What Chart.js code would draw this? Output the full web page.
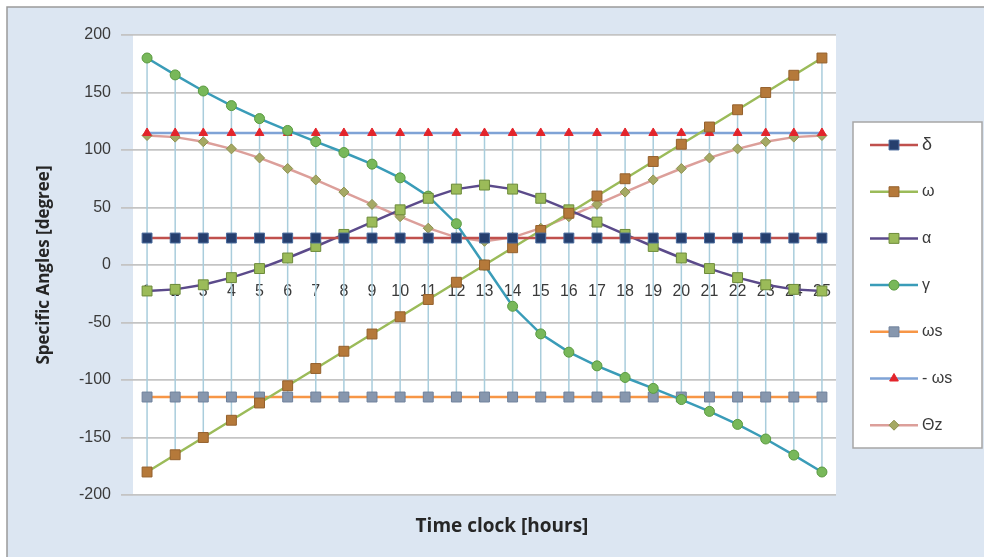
<!DOCTYPE html>
<html>
<head>
<meta charset="utf-8">
<script src="https://cdn.jsdelivr.net/npm/chart.js@4.4.1/dist/chart.umd.min.js"></script>
<style>
  html, body { margin: 0; padding: 0; background: #ffffff; }
  canvas { display: block; }
</style>
</head>
<body>
<canvas id="angles-chart" width="984" height="557"></canvas>
<script>
// hours on the category axis
var hours = ['1','2','3','4','5','6','7','8','9','10','11','12','13','14','15','16','17','18','19','20','21','22','23','24','25'];

// series values (degrees)
var delta = [23.45,23.45,23.45,23.45,23.45,23.45,23.45,23.45,23.45,23.45,23.45,23.45,23.45,23.45,23.45,23.45,23.45,23.45,23.45,23.45,23.45,23.45,23.45,23.45,23.45];
var omega = [-180,-165,-150,-135,-120,-105,-90,-75,-60,-45,-30,-15,0,15,30,45,60,75,90,105,120,135,150,165,180];
var alpha = [-22.6,-21.2,-17.2,-11.0,-3.1,6.1,16.1,26.6,37.3,48.0,58.0,66.0,69.5,66.0,58.0,48.0,37.3,26.6,16.1,6.1,-3.1,-11.0,-17.2,-21.2,-22.6];
var gamma = [180,165.3,151.3,138.6,127.3,117.0,107.3,97.8,87.7,75.8,59.9,35.9,0,-35.9,-59.9,-75.8,-87.7,-97.8,-107.3,-117.0,-127.3,-138.6,-151.3,-165.3,-180];
var omegaS = [-114.8,-114.8,-114.8,-114.8,-114.8,-114.8,-114.8,-114.8,-114.8,-114.8,-114.8,-114.8,-114.8,-114.8,-114.8,-114.8,-114.8,-114.8,-114.8,-114.8,-114.8,-114.8,-114.8,-114.8,-114.8];
var minusOmegaS = [114.8,114.8,114.8,114.8,114.8,114.8,114.8,114.8,114.8,114.8,114.8,114.8,114.8,114.8,114.8,114.8,114.8,114.8,114.8,114.8,114.8,114.8,114.8,114.8,114.8];
var thetaZ = [112.6,111.2,107.2,101.0,93.1,83.9,74.0,63.4,52.7,42.0,32.0,24.0,20.6,24.0,32.0,42.0,52.7,63.4,74.0,83.9,93.1,101.0,107.2,111.2,112.6];

var yTicks = [-200,-150,-100,-50,0,50,100,150,200];

function series(label, data, line, fill, border, style, radius) {
    return {
        label: label,
        data: data,
        xAxisID: 'x',
        borderColor: line,
        borderWidth: 2.5,
        pointStyle: style,
        pointRadius: radius,
        pointBackgroundColor: fill,
        pointBorderColor: border,
        pointBorderWidth: 1,
        tension: 0,
        fill: false
    };
}

var datasets = [
    series('δ', delta, '#c0504d', '#263f6e', '#4a6a9c', 'rect', 7),
    series('ω', omega, '#9bbb59', '#b5793a', '#94602c', 'rect', 7),
    series('α', alpha, '#5b4a8a', '#9bbb59', '#6d8b3a', 'rect', 7),
    series('γ', gamma, '#3a9cb8', '#78b85a', '#5a9a40', 'circle', 5),
    series('ωs', omegaS, '#f79646', '#8797ae', '#6f809b', 'rect', 7),
    series('- ωs', minusOmegaS, '#7fa3d6', '#e3242b', '#e3242b', 'triangle', 5),
    series('Θz', thetaZ, '#dc9f9a', '#a5a964', '#8d9150', 'rectRot', 5)
];

// panel background, white plot area
var backdrop = {
    id: 'backdrop',
    beforeDraw: function(chart) {
        var c = chart.ctx, a = chart.chartArea;
        c.save();
        c.fillStyle = '#ffffff';
        c.fillRect(0, 0, chart.width, chart.height);
        c.fillStyle = '#dce6f2';
        c.fillRect(7, 7, chart.width - 7, chart.height - 7);
        c.strokeStyle = '#9a9a9a';
        c.lineWidth = 1.5;
        c.beginPath();
        c.moveTo(7, chart.height);
        c.lineTo(7, 7);
        c.lineTo(chart.width, 7);
        c.stroke();
        c.fillStyle = '#ffffff';
        c.fillRect(a.left, a.top, a.right - a.left, a.bottom - a.top);
        c.restore();
    }
};

// high-low lines joining the highest and lowest value of each hour
var highLow = {
    id: 'highLow',
    beforeDatasetsDraw: function(chart) {
        var c = chart.ctx, xs = chart.scales.x, ys = chart.scales.y;
        c.save();
        c.strokeStyle = '#a9cddc';
        c.lineWidth = 1.5;
        hours.forEach(function(h, i) {
            var vals = chart.data.datasets.map(function(d) { return d.data[i]; });
            var x = xs.getPixelForValue(i);
            c.beginPath();
            c.moveTo(x, ys.getPixelForValue(Math.max.apply(null, vals)));
            c.lineTo(x, ys.getPixelForValue(Math.min.apply(null, vals)));
            c.stroke();
        });
        c.restore();
    }
};

function drawMarker(c, style, x, y, r) {
    c.beginPath();
    if (style === 'rect') {
        var s = r * Math.SQRT1_2;
        c.rect(x - s, y - s, 2 * s, 2 * s);
    } else if (style === 'circle') {
        c.arc(x, y, r, 0, Math.PI * 2);
    } else if (style === 'triangle') {
        c.moveTo(x, y - r);
        c.lineTo(x + r * 0.87, y + r * 0.5);
        c.lineTo(x - r * 0.87, y + r * 0.5);
        c.closePath();
    } else {
        c.moveTo(x, y - r);
        c.lineTo(x + r, y);
        c.lineTo(x, y + r);
        c.lineTo(x - r, y);
        c.closePath();
    }
    c.fill();
    c.stroke();
}

// boxed legend with line + marker samples, and the x axis title
var sideLegend = {
    id: 'sideLegend',
    afterDraw: function(chart) {
        var c = chart.ctx;
        c.save();
        c.fillStyle = '#ffffff';
        c.fillRect(853, 122, 129, 326);
        c.strokeStyle = '#a6a6a6';
        c.lineWidth = 1.5;
        c.strokeRect(853, 122, 129, 326);
        chart.data.datasets.forEach(function(d, i) {
            var y = 145 + i * 46.7;
            c.strokeStyle = d.borderColor;
            c.lineWidth = 2.5;
            c.beginPath();
            c.moveTo(870, y);
            c.lineTo(918, y);
            c.stroke();
            c.fillStyle = d.pointBackgroundColor;
            c.strokeStyle = d.pointBorderColor;
            c.lineWidth = 1;
            drawMarker(c, d.pointStyle, 894, y, d.pointRadius);
            c.fillStyle = '#3a3a3a';
            c.font = (i === 0 ? '18px' : '16px') + ' "Liberation Sans", Arial, sans-serif';
            c.textBaseline = 'middle';
            c.textAlign = 'left';
            c.fillText(d.label, 922, y);
        });
        c.fillStyle = '#262626';
        c.font = 'bold 19px "Open Sans", sans-serif';
        c.textAlign = 'center';
        c.textBaseline = 'middle';
        c.fillText('Time clock [hours]', 502, 527);
        c.restore();
    }
};

var chart = new Chart(document.getElementById('angles-chart').getContext('2d'), {
    type: 'line',
    data: {
        labels: hours,
        datasets: datasets
    },
    options: {
        responsive: false,
        animation: false,
        layout: {
            padding: { left: 30, right: 148, top: 35, bottom: 62 }
        },
        plugins: {
            legend: { display: false },
            tooltip: { enabled: false }
        },
        scales: {
            x: {
                type: 'category',
                position: { y: 0 },
                offset: true,
                grid: { display: false, drawTicks: false },
                border: { display: false },
                ticks: {
                    padding: 17,
                    color: '#3a3a3a',
                    maxRotation: 0,
                    autoSkip: false,
                    font: { family: '"Liberation Sans", Arial, sans-serif', size: 16 }
                }
            },
            y: {
                min: -200,
                max: 200,
                afterBuildTicks: function(scale) {
                    scale.ticks = yTicks.map(function(v) { return { value: v }; });
                },
                afterFit: function(scale) { scale.width = 103; },
                grid: { color: '#c4c4c4', lineWidth: 1.8, tickLength: 12 },
                border: { display: false },
                ticks: {
                    padding: 10,
                    color: '#3a3a3a',
                    font: { family: '"Liberation Sans", Arial, sans-serif', size: 16 }
                },
                title: {
                    display: true,
                    text: 'Specific Angles [degree]',
                    color: '#262626',
                    padding: { top: 4, bottom: 0 },
                    font: { family: '"Open Sans", sans-serif', size: 17, weight: 'bold' }
                }
            }
        }
    },
    plugins: [backdrop, highLow, sideLegend]
});
</script>
</body>
</html>
